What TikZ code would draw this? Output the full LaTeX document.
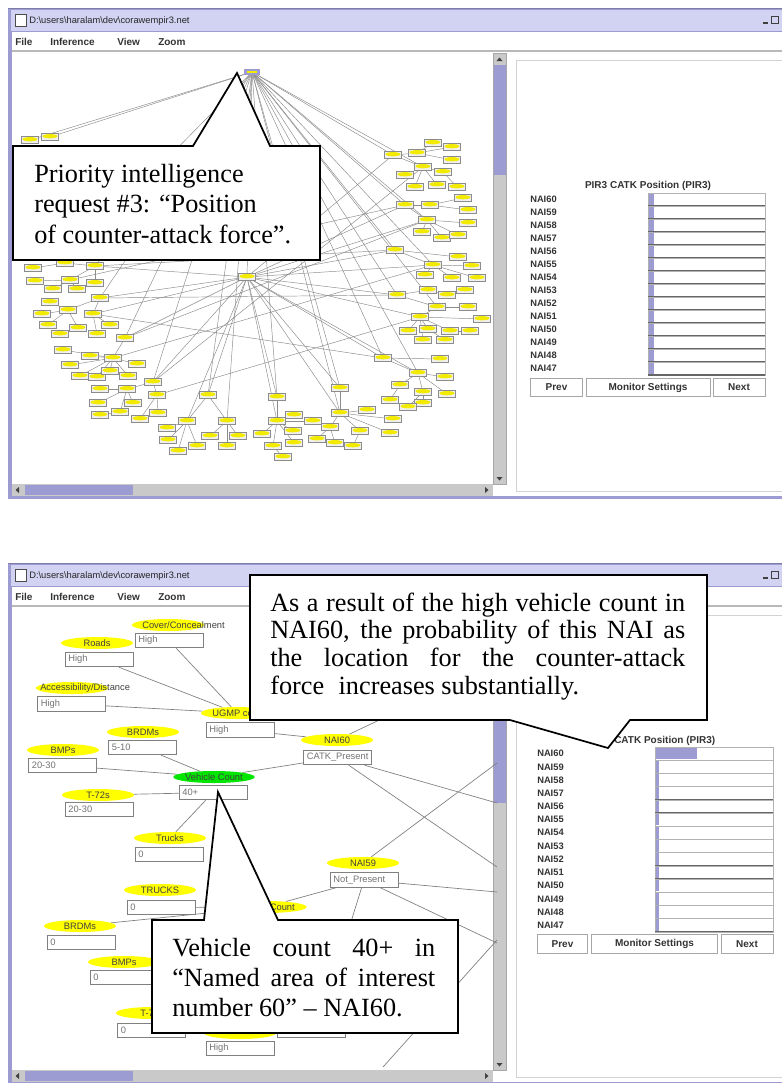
\documentclass[tikz,border=0pt]{standalone}
\usepackage{fontspec}
\setmainfont{Liberation Serif}
\newfontfamily\guifont{Liberation Sans}
\usetikzlibrary{shapes.geometric}
\definecolor{lav}{HTML}{9C9CD2}
\definecolor{titlec}{HTML}{D2D2F2}
\definecolor{trackc}{HTML}{C9C9C9}
\definecolor{ylw}{HTML}{F2EA00}
\definecolor{ylwe}{HTML}{FFFF00}
\definecolor{grn}{HTML}{00E600}
\definecolor{edgec}{HTML}{8C8C8C}
\pgfdeclarelayer{back}
\pgfdeclarelayer{edges}
\pgfsetlayers{back,edges,main}

\newcommand{\winframe}[5]{%
  \fill[lav] (8,#1) rectangle (790,#2);
  \fill[titlec] (11,#1+2) rectangle (790,#1+23);
  \draw[lav!80!black, line width=0.6pt] (8,#1+0.5) -- (790,#1+0.5);
  \fill[white] (12,#1+24) rectangle (790,#2-3);
  \draw[gray!55, line width=0.8pt] (12,#1+43) -- (790,#1+43);
  \draw[black!70, fill=white, line width=0.5pt] (15,#1+6) rectangle (26,#1+18);
  \node[wtitle, anchor=west] (title#5) at (29,#1+13) {D:\textbackslash users\textbackslash haralam\textbackslash dev\textbackslash corawempir3.net};
  \node[menut, anchor=west] (mfile#5) at (15,#1+34) {File};
  \node[menut, anchor=west] (minf#5) at (50,#1+34) {Inference};
  \node[menut, anchor=west] (mview#5) at (117,#1+34) {View};
  \node[menut, anchor=west] (mzoom#5) at (158,#1+34) {Zoom};
  \draw[black!75, line width=1pt] (763,#1+15) -- (768,#1+15);
  \draw[black!75, line width=0.7pt] (771,#1+8) rectangle (778,#1+15);
  \fill[trackc] (493,#1+45) rectangle (506,#2-15);
  \fill[lav] (493,#3) rectangle (506,#4);
  \draw[gray!70, line width=0.4pt] (493,#1+45) rectangle (506,#2-15);
  \fill[black!75] (496.5,#1+53) -- (502.5,#1+53) -- (499.5,#1+49.5) -- cycle;
  \fill[black!75] (496.5,#2-22) -- (502.5,#2-22) -- (499.5,#2-18.5) -- cycle;
  \fill[trackc] (12,#2-15) rectangle (493,#2-3);
  \fill[lav] (25,#2-14) rectangle (133,#2-4);
  \fill[black!75] (19,#2-12) -- (19,#2-6) -- (15.5,#2-9) -- cycle;
  \fill[black!75] (485,#2-12) -- (485,#2-6) -- (488.5,#2-9) -- cycle;
  \draw[gray!35, line width=0.5pt] (516,#1+52) rectangle (790,#2-8);
}

\begin{document}
\begin{tikzpicture}[x=0.75pt, y=-0.75pt,
  wtitle/.style={font=\guifont\fontsize{7}{8}\selectfont, text=black!85, inner sep=0pt},
  menut/.style={font=\guifont\bfseries\fontsize{7.5}{8}\selectfont, text=black!80, inner sep=0pt},
  tn/.style={rectangle, fill=white!88!gray, draw=black!45, line width=0.3pt, minimum width=13pt, minimum height=5pt, inner sep=0pt,
     path picture={\fill[ylw] ([yshift=0.6pt]path picture bounding box.center) ellipse [x radius=5.6pt, y radius=1.6pt];
       \draw[black!75,line width=0.8pt] (path picture bounding box.south west) -- (path picture bounding box.south east);}},
  rootn/.style={rectangle, fill=ylw, draw=lav, line width=1.8pt, minimum width=10pt, minimum height=3pt, inner sep=0pt},
  te/.style={draw=edgec, line width=0.35pt},
  be/.style={draw=edgec!90!black, line width=0.5pt},
  bell/.style={ellipse, fill=ylwe, draw=none, minimum width=54pt, minimum height=9pt, inner sep=0pt, font=\guifont\fontsize{7}{7}\selectfont, text=black!75},
  elab/.style={font=\guifont\fontsize{7}{7}\selectfont, text=black!75, inner sep=0pt},
  bbox/.style={rectangle, draw=gray, line width=0.6pt, fill=white, text width=46pt, inner xsep=2.5pt, inner ysep=0pt, minimum height=11pt, align=left, font=\guifont\fontsize{7}{7}\selectfont, text=black!55},
  gtext/.style={font=\guifont\bfseries\fontsize{7}{8}\selectfont, text=black!80, inner sep=0pt},
  btn/.style={rectangle, draw=gray!70, fill=white, line width=0.6pt, inner sep=0pt, minimum height=14pt, font=\guifont\bfseries\fontsize{7.5}{8}\selectfont, text=black!80},
  callout/.style={draw=black, fill=white, line width=1.3pt, line join=miter},
  ctext/.style={font=\fontsize{19.7}{23}\selectfont, inner sep=0pt, anchor=base west}
]
\useasboundingbox (0,0) rectangle (782,1083);
\begin{pgfonlayer}{back}
  \fill[white] (0,0) rectangle (782,1083);
  \winframe{8}{499}{65}{175}{a}
  \winframe{563}{1085}{610}{803}{b}
\end{pgfonlayer}

% ---------------- top chart ----------------
\node[gtext, font=\guifont\bfseries\fontsize{7.5}{8}\selectfont] (ttitle) at (648,186) {PIR3 CATK Position (PIR3)};
\foreach \n [count=\i from 0] in {60,59,58,57,56,55,54,53,52,51,50,49,48,47} {
  \pgfmathsetmacro{\yt}{193+13*\i}
  \node[gtext, anchor=west] (tl\n) at (530,\yt+6.5) {NAI\n};
  \draw[gray!60, fill=white, line width=0.4pt] (648,\yt) rectangle (765,\yt+13);
  \fill[lav] (649,\yt+0.8) rectangle (654,\yt+12.2);
  \draw[black!60, line width=0.9pt] (648,\yt+13) -- (765,\yt+13);
}
\node[btn, minimum width=39pt] (tprev) at (556.5,387.5) {Prev};
\node[btn, minimum width=93pt] (tmon) at (648,387.5) {Monitor Settings};
\node[btn, minimum width=39pt] (tnext) at (739,387.5) {Next};

% ---------------- bottom chart ----------------
\node[gtext, anchor=west, font=\guifont\bfseries\fontsize{7.5}{8}\selectfont] (btitle) at (614,741) {CATK Position (PIR3)};
\foreach \n [count=\i from 0] in {60,59,58,57,56,55,54,53,52,51,50,49,48,47} {
  \pgfmathsetmacro{\yt}{747+13.2*\i}
  \pgfmathsetmacro{\bx}{\i==0 ? 697 : 658.5}
  \node[gtext, anchor=west] (bl\n) at (537,\yt+6.6) {NAI\n};
  \draw[gray!60, fill=white, line width=0.4pt] (655,\yt) rectangle (773,\yt+13.2);
  \fill[lav] (656,\yt+0.8) rectangle (\bx,\yt+12.4);
  \draw[black!60, line width=0.9pt] (655,\yt+13.2) -- (773,\yt+13.2);
}
\node[btn, minimum width=38pt] (bprev) at (562.5,944) {Prev};
\node[btn, minimum width=94pt] (bmon) at (654.5,944) {Monitor Settings};
\node[btn, minimum width=39pt] (bnext) at (747,944) {Next};

% ---------------- top network ----------------
\node[rootn] (root) at (252,72) {};
\node[tn] (hub) at (247,277) {};
\foreach \n/\x/\y in {A0/393/155, A1/417/153, A2/433/143, A3/452/147, A4/452/160, A5/423/167, A6/443/172, A7/405/175, A8/415/187, A9/437/185, A10/457/187,
  B0/405/205, B1/430/205, B2/463/198, B3/468/210, B4/427/220, B5/468/223, B6/422/232, B7/442/238, B8/458/235,
  C0/395/250, C1/458/257, C2/433/265, C3/472/266, C4/425/275, C5/452/278, C6/477/278,
  D0/397/295, D1/428/290, D2/447/295, D3/465/290, D4/437/307, D5/468/307, D6/420/317, D7/482/319, D8/408/331, D9/428/329, D10/450/331, D11/470/331, D12/423/340, D13/445/340,
  E0/383/358, E1/440/359, E2/418/373, E3/445/377, E4/400/385, E5/423/392, E6/447/394, E7/390/400, E8/423/403, E9/408/407,
  F0/340/388, F1/340/413, F2/367/410, F3/393/419, F4/330/427, F5/360/431, F6/390/433, F7/317/439, F8/335/443, F9/353/446,
  G0/277/397, G1/277/421, G2/294/415, G3/313/421, G4/293/431, G5/262/434, G6/294/443, G7/273/446, G8/283/457,
  H0/208/395, H1/187/421, H2/227/421, H3/167/428, H4/210/436, H5/238/436, H6/168/440, H7/197/446, H8/178/451, H9/227/446,
  I0/153/382, I1/157/395, I2/127/389, I3/100/389, I4/98/403, I5/133/403, I6/120/412, I7/100/415, I8/158/413, I9/140/419,
  J0/125/338, J1/90/356, J2/113/358, J3/63/350, J4/70/365, J5/137/364, J6/80/376, J7/97/377, J8/110/371, J9/128/376,
  K0/100/298, K1/50/302, K2/68/310, K3/42/314, K4/93/314, K5/48/325, K6/78/328, K7/110/325, K8/60/334, K9/97/334,
  L0/95/266, L1/33/268, L2/65/263, L3/35/281, L4/70/280, L5/95/283, L6/53/289, L7/77/289,
  U1/30/140, U2/50/137}
  \node[tn] (\n) at (\x,\y) {};

\begin{pgfonlayer}{edges}
\foreach \a/\b in {A0/A1, A1/A2, A1/A3, A1/A4, A0/A5, A5/A6, A5/A7, A5/A8, A5/A9, A6/A10,
  B0/B1, B1/B2, B1/B3, B0/B4, B4/B5, B4/B6, B4/B7, B4/B8,
  C0/C1, C0/C2, C2/C3, C2/C4, C2/C5, C2/C6,
  D0/D1, D1/D2, D2/D3, D0/D4, D4/D5, D4/D6, D6/D7, D6/D8, D6/D9, D6/D10, D10/D11, D6/D12, D9/D13,
  E0/E1, E0/E2, E2/E3, E2/E4, E2/E5, E2/E6, E4/E7, E5/E8, E5/E9,
  F0/F1, F1/F2, F1/F3, F1/F4, F1/F5, F1/F6, F4/F7, F4/F8, F5/F9,
  G0/G1, G1/G2, G1/G3, G1/G4, G1/G5, G1/G6, G1/G7, G7/G8,
  H0/H1, H0/H2, H1/H3, H1/H6, H1/H8, H1/H7, H2/H4, H2/H5, H2/H9,
  I0/I1, I1/I8, I1/I9, I0/I2, I2/I3, I2/I4, I2/I5, I2/I6, I6/I7,
  J0/J2, J2/J1, J2/J3, J2/J4, J2/J5, J2/J6, J2/J7, J2/J8, J2/J9,
  K0/K2, K0/K4, K2/K1, K2/K3, K2/K5, K2/K6, K4/K7, K4/K9, K6/K8,
  L0/L2, L2/L1, L0/L4, L4/L3, L0/L5, L4/L6, L4/L7,
  K0/D0, L0/C0, J0/B4, I0/A5, L4/B0, J2/C2, K4/E0, I1/D6}
  \draw[te] (\a) -- (\b);
\foreach \b in {A0, A5, B0, B4, C0, D0, D4, E0, E2, F0, G0, H0, H2, I0, J0, K0, L0, L2, U1, U2, hub, C2, F1}
  \draw[te] (root) -- (\b);
\foreach \b in {A0, B0, C0, D0, D6, E0, E2, F0, F1, G0, G1, H0, H1, I0, J0, K0, L0, B4, C2, K4}
  \draw[te] (hub) -- (\b);
\end{pgfonlayer}

% ---------------- bottom network ----------------
\node[bell] (eCov) at (168,625) {};
\node[elab, anchor=west] (lCov) at (142,625) {Cover/Concealment};
\node[bbox] (bCov) at (169,640.5) {High};
\node[bell] (eRoad) at (97,643) {Roads};
\node[bbox] (bRoad) at (99,659.5) {High};
\node[bell] (eAcc) at (72,688) {};
\node[elab, anchor=west] (lAcc) at (40,688) {Accessibility/Distance};
\node[bbox] (bAcc) at (71.5,704) {High};
\node[bell] (eUgmp) at (237,713) {};
\node[elab, anchor=west] (lUgmp) at (212,713) {UGMP count};
\node[bbox] (bUgmp) at (240,730) {High};
\node[bell] (eBrdm) at (143,732) {BRDMs};
\node[bbox] (bBrdm) at (142.5,747.5) {5-10};
\node[bell] (eBmp) at (63,750) {BMPs};
\node[bbox] (bBmp) at (62.5,765.5) {20-30};
\node[bell, fill=grn] (eVeh) at (214,777) {Vehicle Count};
\node[bbox] (bVeh) at (213,792.5) {40+};
\node[bell] (eNai60) at (337,740) {NAI60};
\node[bbox] (bNai60) at (337.5,757.5) {CATK\_Present};
\node[bell] (eT72) at (98,795) {T-72s};
\node[bbox] (bT72) at (99,809.5) {20-30};
\node[bell] (eTr1) at (170,838) {Trucks};
\node[bbox] (bTr1) at (169,854.5) {0};
\node[bell] (eTr2) at (160,890) {TRUCKS};
\node[bbox] (bTr2) at (161,907.5) {0};
\node[bell] (eBrdm2) at (80,926) {BRDMs};
\node[bbox] (bBrdm2) at (81,942.5) {0};
\node[bell] (eBmp2) at (124,962) {BMPs};
\node[bbox] (bBmp2) at (124,977.5) {0};
\node[bell] (eT722) at (152,1013) {T-72s};
\node[bbox] (bT722) at (151.5,1030.5) {0};
\node[bell] (eHid) at (240,1033) {};
\node[bbox] (bHid) at (240,1048.5) {High};
\node[bbox] (bHid2) at (311,1030.5) {};
\node[bell] (eVeh2) at (266,907) {Vehicle Count};
\node[bell] (eNai59) at (363,863) {NAI59};
\node[bbox] (bNai59) at (364,880) {Not\_Present};

\coordinate (r1) at (497,892);
\coordinate (r2) at (497,943);
\coordinate (r3) at (350,925);
\coordinate (r4) at (497,763);
\coordinate (r5) at (497,803);
\coordinate (r6) at (497,867);
\coordinate (r7) at (390,715);
\coordinate (r8) at (497,940);
\coordinate (r9) at (383,1067);

\begin{pgfonlayer}{edges}
\draw[be] (bCov) -- (eUgmp);
\draw[be] (bRoad) -- (eUgmp);
\draw[be] (bAcc) -- (eUgmp);
\draw[be] (bUgmp) -- (eNai60);
\draw[be] (bBrdm) -- (eVeh);
\draw[be] (bBmp) -- (eVeh);
\draw[be] (eT72) -- (bVeh);
\draw[be] (eVeh) -- (bNai60);
\draw[be] (eTr1) -- (bVeh);
\draw[be] (bTr2) -- (eVeh2);
\draw[be] (eBrdm2) -- (eVeh2);
\draw[be] (eVeh2) -- (bNai59);
\draw[be] (bNai59) -- (r1);
\draw[be] (bNai59) -- (r2);
\draw[be] (bNai59) -- (r3);
\draw[be] (eNai59) -- (r4);
\draw[be] (bNai60) -- (r5);
\draw[be] (bNai60) -- (r6);
\draw[be] (eNai60) -- (r7);
\draw[be] (r8) -- (r9);
\end{pgfonlayer}

% ---------------- callouts ----------------
\draw[callout] (13,146) -- (193,146) -- (237,73) -- (270,146) -- (320,146) -- (320,260) -- (13,260) -- cycle;
\node[ctext] (c1a) at (34,182) {Priority intelligence};
\node[ctext] (c1b) at (34,212) {request \#3: “Position};
\node[ctext] (c1c) at (34,243) {of counter-attack force”.};

\draw[callout] (250,575) -- (707,575) -- (707,720) -- (630,720) -- (608,748) -- (510,720) -- (250,720) -- cycle;
\node[ctext] (c2a) at (270,611) {\makebox[311.25pt][s]{As a result of the high vehicle count in}};
\node[ctext] (c2b) at (270,638) {\makebox[311.25pt][s]{NAI60, the probability of this NAI as}};
\node[ctext] (c2c) at (270,666) {\makebox[311.25pt][s]{the location for the counter-attack}};
\node[ctext] (c2d) at (270,694) {force\hspace{0.3em} increases substantially.};

\draw[callout] (152,920) -- (204,920) -- (218,792) -- (278,920) -- (458,920) -- (458,1033) -- (152,1033) -- cycle;
\node[ctext] (c3a) at (172,956) {\makebox[197.25pt][s]{Vehicle count 40+ in}};
\node[ctext] (c3b) at (172,986) {\makebox[197.25pt][s]{“Named area of interest}};
\node[ctext] (c3c) at (172,1016) {number 60” – NAI60.};
\end{tikzpicture}
\end{document}
